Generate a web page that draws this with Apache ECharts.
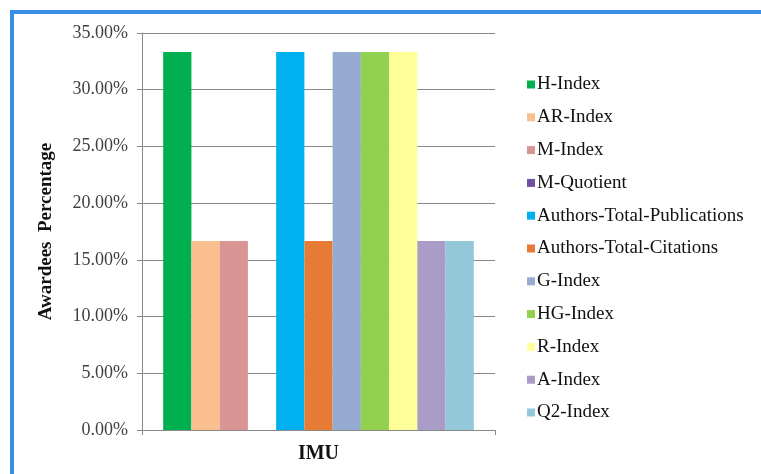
<!DOCTYPE html>
<html>
<head>
<meta charset="utf-8">
<script src="https://cdn.jsdelivr.net/npm/echarts@6/dist/echarts.min.js"></script>
<style>
html,body{margin:0;padding:0;background:#fff;}
#chart{width:761px;height:474px;}
</style>
</head>
<body>
<div id="chart"></div>
<script>
var categories = ['IMU'];
var seriesNames = ['H-Index','AR-Index','M-Index','M-Quotient','Authors-Total-Publications','Authors-Total-Citations','G-Index','HG-Index','R-Index','A-Index','Q2-Index'];
var seriesValues = [33.33, 16.67, 16.67, 0, 33.33, 16.67, 33.33, 33.33, 33.33, 16.67, 16.67];
var seriesColors = ['#00b050','#fabf8f','#d99594','#7050a0','#00b0f0','#e57b35','#95abd0','#92d050','#ffff99','#a99cc6','#93c8d8'];
var yTicks = [0, 5, 10, 15, 20, 25, 30, 35];

var serif = 'Liberation Serif';
var chart = echarts.init(document.getElementById('chart'));
var series = seriesNames.map(function(n, i){
  return {
    name: n, type: 'bar', data: [seriesValues[i]],
    barGap: '0%', barCategoryGap: '12%',
    itemStyle: {color: seriesColors[i]}
  };
});
chart.setOption({
  animation: false,
  backgroundColor: '#fff',
  graphic: [{
    type: 'rect', shape: {x: 12, y: 12, width: 800, height: 500},
    style: {fill: 'none', stroke: '#3a8ee6', lineWidth: 4}, z: 100
  }],
  grid: {left: 142, right: 266, top: 33, bottom: 44},
  legend: {
    orient: 'vertical', left: 522, top: 70,
    itemWidth: 8, itemHeight: 8, itemGap: 13.8, icon: 'rect',
    textStyle: {fontFamily: serif, fontSize: 19, color: '#111', lineHeight: 19, padding: [0,0,0,-3]},
    data: seriesNames
  },
  xAxis: {
    type: 'category', data: categories,
    axisLine: {lineStyle: {color: '#888'}},
    axisTick: {show: true, length: 5, lineStyle: {color: '#888'}},
    axisLabel: {fontFamily: serif, fontSize: 20, fontWeight: 'bold', color: '#111', margin: 14}
  },
  yAxis: {
    type: 'value', min: 0, max: 35, interval: 5,
    name: 'Awardees  Percentage', nameLocation: 'middle', nameGap: 86,
    nameTextStyle: {fontFamily: serif, fontSize: 19, fontWeight: 'bold', color: '#111'},
    axisLine: {show: true, lineStyle: {color: '#888'}},
    axisTick: {show: true, length: 5, lineStyle: {color: '#888'}},
    splitLine: {lineStyle: {color: '#888'}},
    axisLabel: {fontFamily: serif, fontSize: 18, color: '#404040', margin: 14,
      formatter: function(v){ return v.toFixed(2) + '%'; }}
  },
  series: series
});
</script>
</body>
</html>
